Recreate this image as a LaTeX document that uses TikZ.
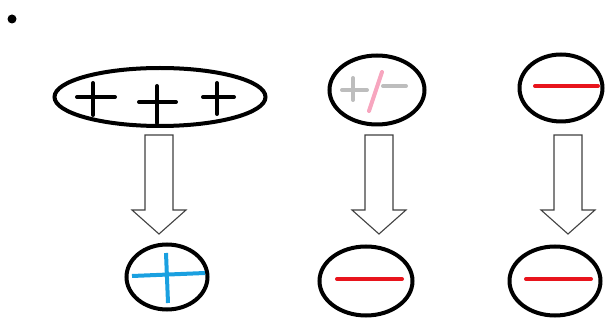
\documentclass[tikz,border=0pt]{standalone}
\usetikzlibrary{shapes.geometric}
\definecolor{rimblack}{HTML}{000000}
\definecolor{minusred}{HTML}{E8141C}
\definecolor{plusblue}{HTML}{1AA0E0}
\definecolor{fadegray}{HTML}{BDBDBD}
\definecolor{fadepink}{HTML}{F7A6BF}
\definecolor{arrowgray}{HTML}{404040}
\tikzset{
  cell/.style={ellipse, draw=rimblack, line width=4pt, inner sep=0pt, minimum width=#1},
  charge/.style={line width=4pt, line cap=round},
  blockarrow/.style={draw=arrowgray, line width=1.1pt, fill=white, line join=miter},
}
\begin{document}
\begin{tikzpicture}[x=1pt,y=-1pt]
\useasboundingbox (0,0) rectangle (608,320);
\fill (12,19) circle (4.5);
% top row
\node[cell=211pt, minimum height=58pt] (t1) at (160,97) {};
\node[cell=95pt, minimum height=69pt] (t2) at (377,90) {};
\node[cell=83pt, minimum height=67pt] (t3) at (561,88) {};
% bottom row
\node[cell=81pt, minimum height=65pt] (b1) at (167,277) {};
\node[cell=93pt, minimum height=69pt] (b2) at (366,281) {};
\node[cell=91pt, minimum height=69pt] (b3) at (555,281) {};
% plus signs in t1
\draw[charge] (77,97) -- (115,97) (93,83) -- (93,115);
\draw[charge] (139,102) -- (176,102) (157,86) -- (157,123);
\draw[charge] (203,97) -- (234,97) (217,83) -- (217,114);
% t2 faded +/-
\draw[charge, fadegray] (342,90) -- (367,90) (353,78) -- (353,100);
\draw[charge, fadegray] (383,86) -- (406,86);
\draw[charge, fadepink] (382,72) -- (369,111);
% t3 minus
\draw[charge, minusred] (535,86) -- (598,86);
% b1 blue plus
\draw[charge, plusblue, line cap=butt] (132,276) -- (205,273) (166,253) -- (168,303);
% b2, b3 minus
\draw[charge, minusred] (337,279) -- (402,279);
\draw[charge, minusred] (526,279) -- (591,279);
% block arrows
\foreach \c/\n in {159/a1,379/a2,568/a3}{
  \draw[blockarrow] (\c-14,135) -- (\c+14,135) -- (\c+14,210) -- (\c+27,210)
    -- (\c,234) -- (\c-27,210) -- (\c-14,210) -- cycle;
}
\end{tikzpicture}
\end{document}
